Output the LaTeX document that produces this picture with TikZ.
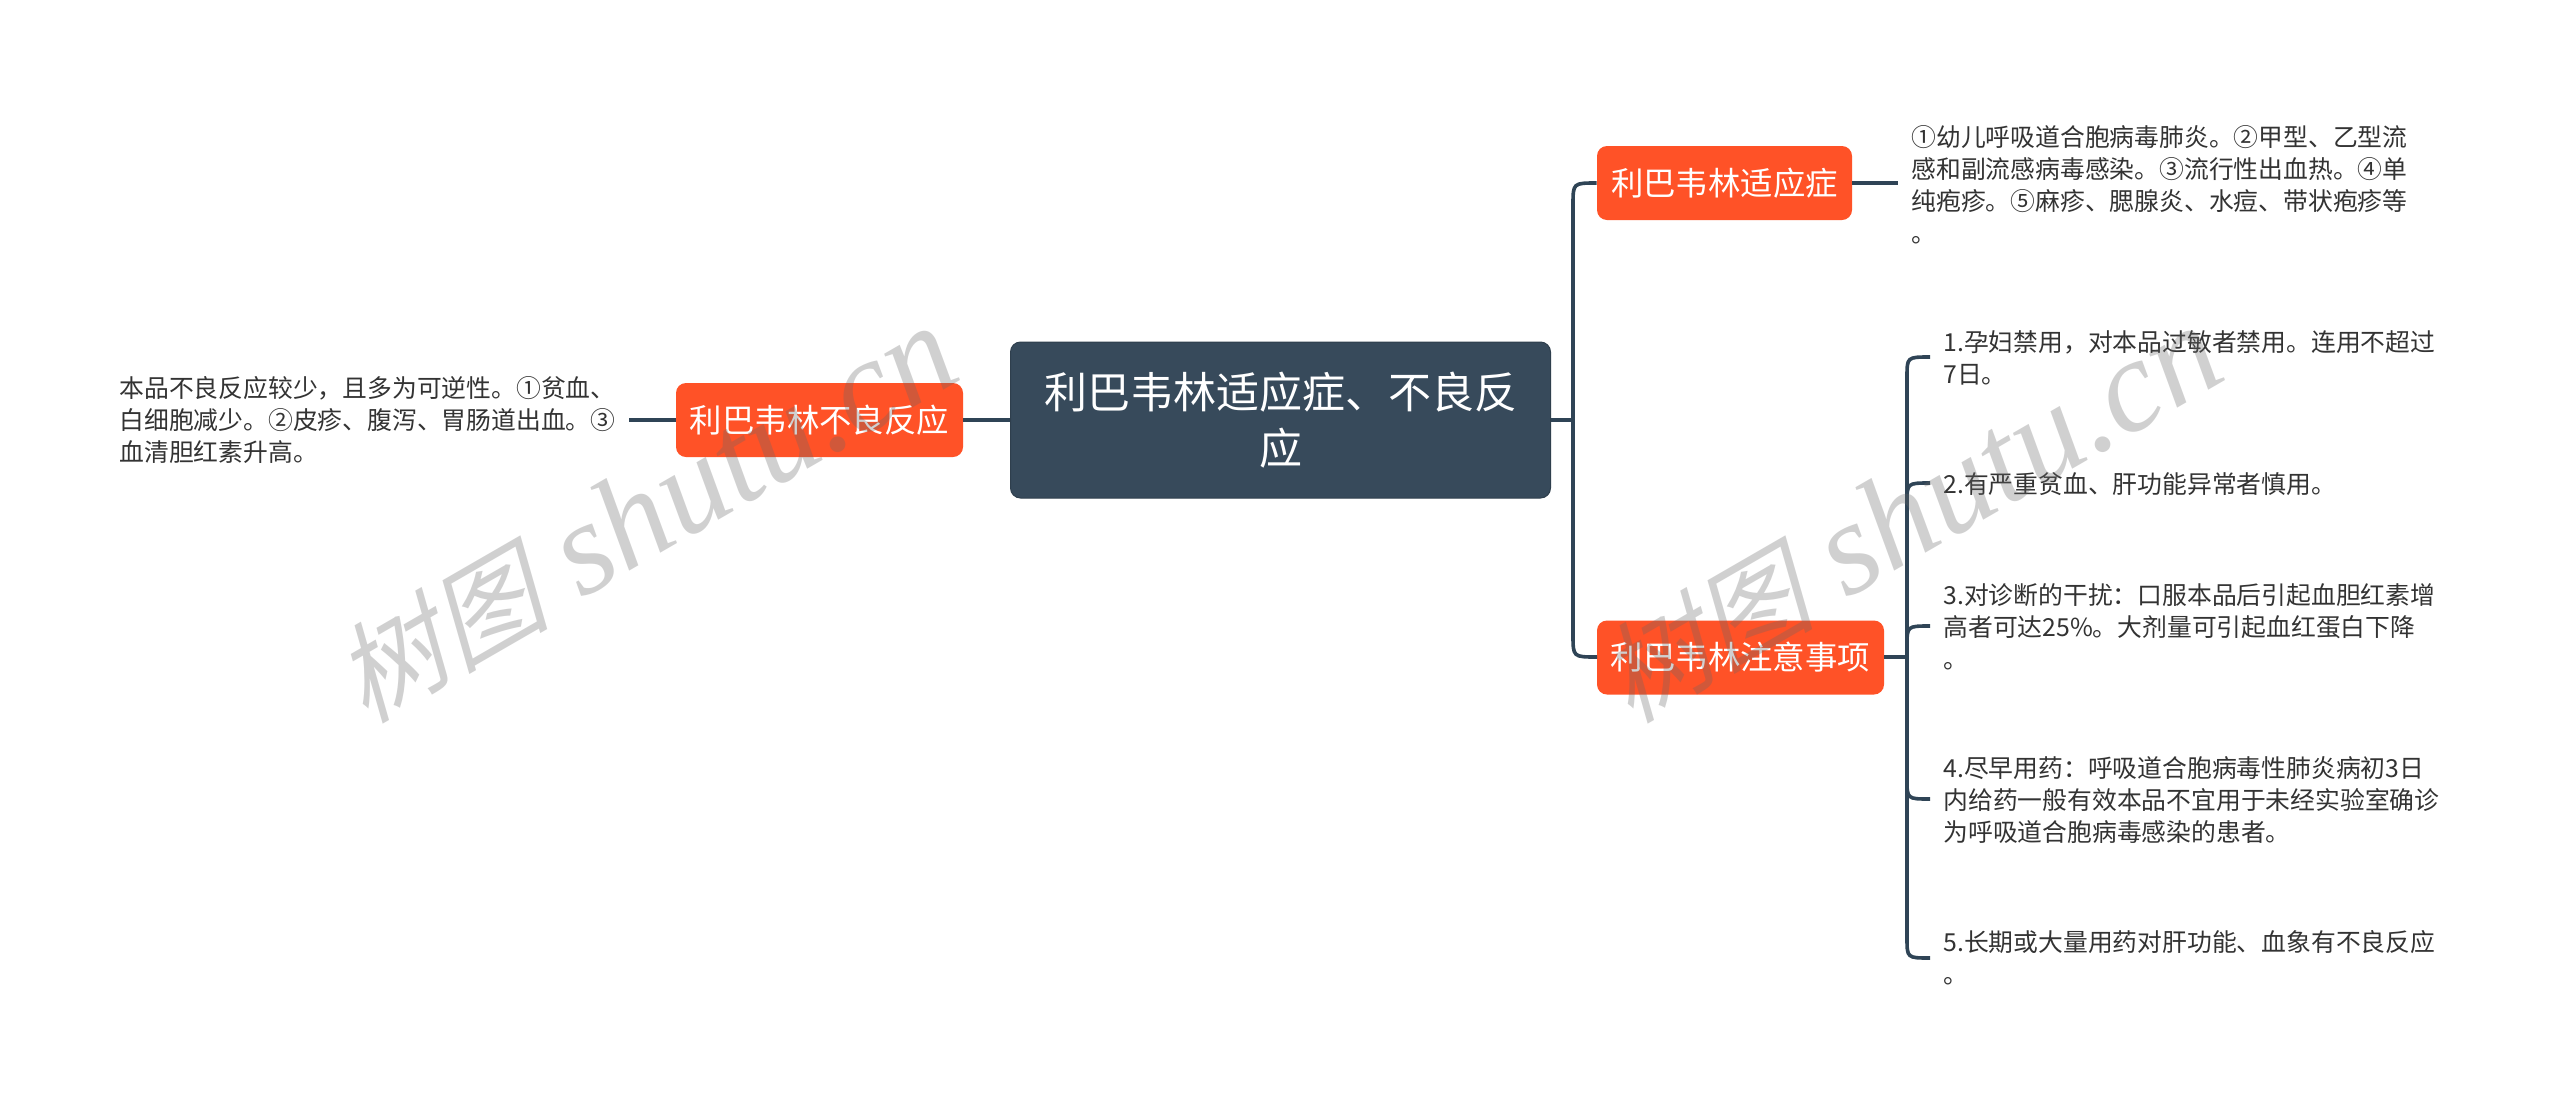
\documentclass[tikz,border=0pt]{standalone}
\usepackage{fontspec}
\setmainfont{Noto Sans CJK SC}
\newfontfamily\wmcjk[FakeSlant=0.25]{Noto Sans CJK SC}
\newfontfamily\wmlat{Liberation Serif}[ItalicFont=* Italic]
\usetikzlibrary{calc}
\definecolor{rootc}{HTML}{374A5B}
\definecolor{orangec}{HTML}{FF5227}
\definecolor{linec}{HTML}{2F4456}
\definecolor{textc}{HTML}{333333}
\newcommand{\bendline}[4]{\draw[conn] (#1) -- (#2 |- #1) -- ($(#2 |- #3)+(0,#4)$) .. controls (#2 |- #3) .. (#3);}
\newcommand{\wmtext}{{\fontsize{54pt}{54pt}\wmcjk 树图}{\fontsize{66pt}{66pt}\wmlat\itshape\ shutu.cn}}
\tikzset{
  rootbox/.style={fill=rootc,draw=rootc!85!black,line width=0.5pt,rounded corners=5pt,text=white,inner sep=0pt,
    minimum width=270pt,minimum height=78pt,align=center,font=\fontsize{21.5pt}{28pt}\selectfont},
  topicbox/.style={fill=orangec,rounded corners=5pt,text=white,inner sep=0pt,
    minimum height=37pt,align=center,font=\fontsize{16.2pt}{20pt}\selectfont},
  leaf/.style={anchor=west,inner sep=0pt,align=left,text=textc,font=\fontsize{12.4pt}{16pt}\selectfont},
  conn/.style={draw=linec,line width=1.8pt},
  mark wm/.style={text=black!60,opacity=0.3,rotate=30,inner sep=0pt}
}
\begin{document}
\begin{tikzpicture}[x=0.5pt,y=-0.5pt]
\useasboundingbox[fill=white] (0,0) rectangle (2560,1109);

\coordinate (tr1) at (1573,420);
\coordinate (tr2) at (1907,657);
\coordinate (a1) at (1597,183);
\coordinate (a2) at (1597,657);
\coordinate (e1) at (1898,183);
\coordinate (e3) at (629,420);
\coordinate (b1) at (1930,357);
\coordinate (b2) at (1930,483);
\coordinate (b3) at (1930,626);
\coordinate (b4) at (1930,799);
\coordinate (b5) at (1930,958);

\node[rootbox] (root) at (1280.5,420) {利巴韦林适应症、不良反\\应};
\node[topicbox,minimum width=127.5pt] (n1) at (1724.5,183) {利巴韦林适应症};
\node[topicbox,minimum width=143.5pt] (n2) at (1740.5,657.5) {利巴韦林注意事项};
\node[topicbox,minimum width=143.5pt] (n3) at (819.5,420) {利巴韦林不良反应};

\node[leaf] (t1) at (1911,185) {①幼儿呼吸道合胞病毒肺炎。②甲型、乙型流\\感和副流感病毒感染。③流行性出血热。④单\\纯疱疹。⑤麻疹、腮腺炎、水痘、带状疱疹等\\。};
\node[leaf] (c1) at (1943,358) {1.孕妇禁用，对本品过敏者禁用。连用不超过\\7日。};
\node[leaf] (c2) at (1943,484) {2.有严重贫血、肝功能异常者慎用。};
\node[leaf] (c3) at (1943,627) {3.对诊断的干扰：口服本品后引起血胆红素增\\高者可达25\%。大剂量可引起血红蛋白下降\\。};
\node[leaf] (c4) at (1943,800) {4.尽早用药：呼吸道合胞病毒性肺炎病初3日\\内给药一般有效本品不宜用于未经实验室确诊\\为呼吸道合胞病毒感染的患者。};
\node[leaf] (c5) at (1943,958) {5.长期或大量用药对肝功能、血象有不良反应\\。};
\node[leaf] (l1) at (119,420) {本品不良反应较少，且多为可逆性。①贫血、\\白细胞减少。②皮疹、腹泻、胃肠道出血。③\\血清胆红素升高。};

\draw[conn] (root.west |- tr1) -- (n3.east |- tr1);
\draw[conn] (n3.west) -- (e3);
\draw[conn] (n1.east) -- (e1);
\bendline{root.east |- tr1}{tr1}{n1.west}{22}
\bendline{root.east |- tr1}{tr1}{a2}{-22}
\bendline{n2.east |- tr2}{tr2}{b1}{20}
\bendline{n2.east |- tr2}{tr2}{b2}{20}
\bendline{n2.east |- tr2}{tr2}{b3}{20}
\bendline{n2.east |- tr2}{tr2}{b4}{-20}
\bendline{n2.east |- tr2}{tr2}{b5}{-20}

\node[mark wm] (w1) at (645,515) {\wmtext};
\node[mark wm] (w2) at (1910,515) {\wmtext};
\end{tikzpicture}
\end{document}
